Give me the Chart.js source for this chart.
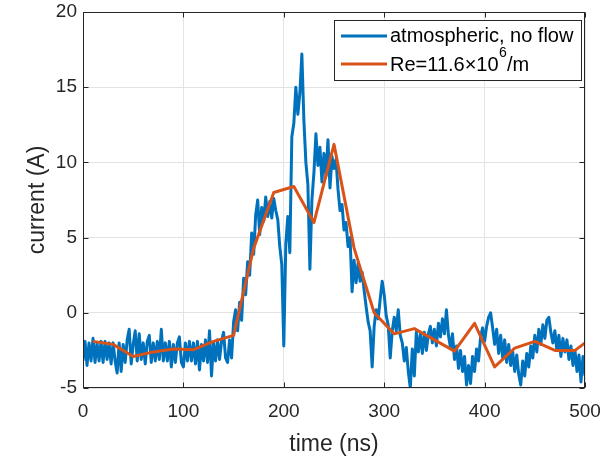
<!DOCTYPE html>
<html>
<head>
<meta charset="utf-8">
<script src="https://cdn.jsdelivr.net/npm/chart.js@4/dist/chart.umd.min.js"></script>
<style>
html,body{margin:0;padding:0;background:#fff;}
#c{display:block;}
</style>
</head>
<body>
<canvas id="c" width="602" height="462"></canvas>
<script>
// ---- data ----
const blueStartNs = 0;
const blueStepNs = 2;
const blueCurrent = [
 -3.2,-1.9,-3.5,-2.0,-3.2,-1.7,-3.3,-2.0,-3.2,-1.9,
 -3.3,-1.9,-3.1,-2.0,-3.4,-2.0,-3.2,-4.0,-2.0,-3.9,
 -2.1,-3.3,-1.8,-1.1,-3.4,-2.1,-1.2,-3.2,-1.4,-3.1,
 -2.0,-3.4,-1.9,-1.5,-3.3,-2.0,-3.2,-1.9,-3.1,-1.1,
 -3.2,-2.0,-3.2,-1.9,-3.6,-2.1,-3.3,-2.0,-1.6,-3.3,
 -3.6,-2.0,-3.2,-1.9,-3.2,-2.0,-3.4,-1.9,-3.8,-2.1,
 -3.2,-1.8,-3.3,-1.2,-4.2,-2.0,-3.2,-1.8,-3.1,-1.9,
 -1.3,-3.0,-3.3,-1.8,-3.0,
 -0.6,0.2,-1.2,0.7,-0.5,2.3,1.2,3.4,2.5,5.3,
 3.9,6.5,7.5,5.2,7.0,6.1,7.7,6.4,7.4,6.3,
 7.6,6.8,6.2,4.4,3.2,
 -2.2,4.6,6.4,4.0,11.7,12.6,15.0,13.2,14.6,17.2,
 12.8,10.0,8.5,2.9,7.5,9.3,11.9,9.8,11.0,8.7,
 10.6,9.1,11.5,8.3,10.4,9.6,10.2,8.2,6.8,7.2,
 5.5,6.0,4.4,5.0,1.4,3.5,2.0,3.3,2.1,2.7,
 1.5,0.4,-0.6,-1.2,-3.6,-0.9,0.2,-0.4,0.9,2.1,
 1.2,-0.2,-0.8,-3.0,-1.2,-0.3,-1.2,0.2,-1.5,-2.0,
 -3.2,-2.3,-3.9,-5.0,-2.4,-4.2,-1.3,-2.6,-1.4,-2.7,
 -1.3,-2.5,-1.4,-0.9,-2.0,-1.1,-2.2,-0.7,-1.6,-0.4,
 -1.4,0.2,-1.5,-2.3,-1.4,-3.1,-2.2,-3.7,-2.5,-3.9,
 -2.9,-4.8,-3.5,-4.7,-2.9,-3.9,-2.4,-3.2,-1.6,-1.0,
 -1.9,-0.9,-0.3,0.0,-1.0,-2.1,-1.1,-2.7,-1.5,-3.0,
 -1.8,-3.3,-2.1,-3.5,-2.6,-3.9,-2.8,-4.1,-4.8,-3.2,
 -4.2,-2.7,-3.6,-2.2,-3.0,-1.5,-2.6,-1.1,-2.1,-0.8,
 -1.7,-0.5,-0.3,-1.3,-2.0,-1.2,-2.5,-1.5,-2.9,-1.7,
 -2.6,-1.8,-3.1,-2.2,-3.5,-2.5,-3.9,-2.8,-4.6,-2.9,
 -4.2
];
const orangeTimes = [10,30,50,70,90,110,130,150,170,190,210,230,250,270,290,310,330,350,370,390,410,430,450,470,490,500];
const orangeCurrent = [-1.9,-2.1,-2.9,-2.6,-2.4,-2.45,-1.9,-1.5,4.3,8.0,8.4,6.0,11.2,4.3,0.0,-1.4,-1.05,-1.8,-2.55,-0.7,-3.6,-2.35,-1.9,-2.5,-2.5,-2.0];
const xTicks = [0,100,200,300,400,500];
const yTicks = [-5,0,5,10,15,20];
const blueLabel = 'atmospheric, no flow';
const orangeLabelParts = ['Re=11.6×10', '6', '/m'];
const xTitle = 'time (ns)';
const yTitle = 'current (A)';

// ---- styling ----
const BLUE = '#0072BD';
const ORANGE = '#D95319';
const AXIS = '#262626';
const GRID = '#e3e3e3';
const FONT = '"Liberation Sans", Arial, Helvetica, sans-serif';

const bluePoints = blueCurrent.map((v, i) => ({x: blueStartNs + i * blueStepNs, y: v}));
const orangePoints = orangeTimes.map((t, i) => ({x: t, y: orangeCurrent[i]}));

const matlabPlugin = {
  id: 'matlabLook',
  afterDatasetsDraw(chart) {
    const {ctx, chartArea: a, scales} = chart;
    ctx.save();
    ctx.strokeStyle = AXIS;
    ctx.lineWidth = 1;
    const L = Math.round(a.left) + 0.5, R = Math.round(a.right) - 0.5;
    const T = Math.round(a.top) + 0.5, B = Math.round(a.bottom) - 0.5;
    ctx.strokeRect(L, T, R - L, B - T);
    const tl = 5;
    ctx.beginPath();
    xTicks.forEach(v => {
      const px = Math.round(scales.x.getPixelForValue(v)) + 0.5;
      ctx.moveTo(px, B); ctx.lineTo(px, B - tl);
      ctx.moveTo(px, T); ctx.lineTo(px, T + tl);
    });
    yTicks.forEach(v => {
      const py = Math.round(scales.y.getPixelForValue(v)) + 0.5;
      ctx.moveTo(L, py); ctx.lineTo(L + tl, py);
      ctx.moveTo(R, py); ctx.lineTo(R - tl, py);
    });
    ctx.stroke();
    ctx.restore();
  },
  afterDraw(chart) {
    const {ctx} = chart;
    ctx.save();
    // legend box
    const bx = 334.5, by = 20.5, bw = 247, bh = 60;
    ctx.fillStyle = '#fff';
    ctx.fillRect(bx, by, bw, bh);
    ctx.strokeStyle = AXIS;
    ctx.lineWidth = 1;
    ctx.strokeRect(bx, by, bw, bh);
    const rows = [{c: BLUE, y: 36}, {c: ORANGE, y: 64}];
    rows.forEach(r => {
      ctx.strokeStyle = r.c;
      ctx.lineWidth = 3;
      ctx.beginPath();
      ctx.moveTo(341, r.y); ctx.lineTo(387, r.y);
      ctx.stroke();
    });
    ctx.fillStyle = '#000';
    ctx.textBaseline = 'alphabetic';
    ctx.textAlign = 'left';
    ctx.font = '20px ' + FONT;
    ctx.fillText(blueLabel, 390, 42);
    let x = 390;
    ctx.fillText(orangeLabelParts[0], x, 71);
    x += ctx.measureText(orangeLabelParts[0]).width;
    ctx.font = '14px ' + FONT;
    ctx.fillText(orangeLabelParts[1], x + 0.5, 57);
    x += ctx.measureText(orangeLabelParts[1]).width + 0.5;
    ctx.font = '20px ' + FONT;
    ctx.fillText(orangeLabelParts[2], x, 71);
    ctx.restore();
  }
};

new Chart(document.getElementById('c'), {
  type: 'line',
  data: {
    datasets: [
      {label: blueLabel, data: bluePoints, borderColor: BLUE, borderWidth: 3, pointRadius: 0, tension: 0, fill: false, order: 2, borderJoinStyle: 'round'},
      {label: orangeLabelParts.join(''), data: orangePoints, borderColor: ORANGE, borderWidth: 3, pointRadius: 0, tension: 0, fill: false, order: 1, borderJoinStyle: 'round'}
    ]
  },
  options: {
    responsive: false,
    devicePixelRatio: 1,
    animation: false,
    layout: {padding: {left: 0, top: 12, right: 17, bottom: 0}},
    plugins: {legend: {display: false}, tooltip: {enabled: false}},
    scales: {
      x: {
        type: 'linear', min: 0, max: 500,
        afterBuildTicks: s => { s.ticks = xTicks.map(v => ({value: v})); },
        afterFit: s => { s.height = 74; s.paddingLeft = 0; s.paddingRight = 0; },
        ticks: {color: AXIS, font: {family: FONT, size: 19}, padding: 12, maxRotation: 0},
        grid: {color: GRID, drawTicks: false, lineWidth: 1},
        border: {display: false},
        title: {display: true, text: xTitle, color: AXIS, font: {family: FONT, size: 23}, padding: {top: 0, bottom: 4}}
      },
      y: {
        type: 'linear', min: -5, max: 20,
        afterBuildTicks: s => { s.ticks = yTicks.map(v => ({value: v})); },
        afterFit: s => { s.width = 83; s.paddingTop = 0; s.paddingBottom = 0; },
        ticks: {color: AXIS, font: {family: FONT, size: 19}, padding: 6},
        grid: {color: GRID, drawTicks: false, lineWidth: 1},
        border: {display: false},
        title: {display: true, text: yTitle, color: AXIS, font: {family: FONT, size: 23}, padding: {top: 24, bottom: 0}}
      }
    }
  },
  plugins: [matlabPlugin]
});
</script>
</body>
</html>
